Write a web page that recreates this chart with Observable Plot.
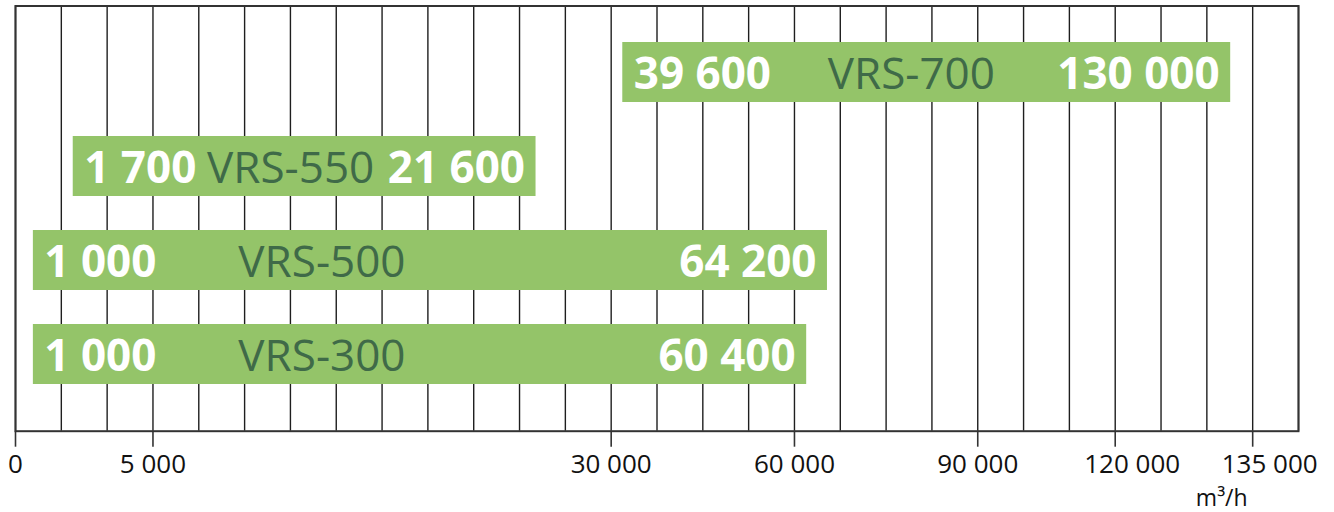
<!DOCTYPE html>
<html>
<head>
<meta charset="utf-8">
<script src="https://cdn.jsdelivr.net/npm/d3@7"></script>
<script src="https://cdn.jsdelivr.net/npm/@observablehq/plot@0.6"></script>
<style>
  html, body { margin: 0; padding: 0; background: #fff; }
</style>
</head>
<body>
<div id="chart"></div>
<script>
// ---- data ----
const models = ["VRS-700", "VRS-550", "VRS-500", "VRS-300"];
const minLabel = ["39 600", "1 700", "1 000", "1 000"];
const maxLabel = ["130 000", "21 600", "64 200", "60 400"];
// bar extents as read against the drawn axis (m³/h)
const barFrom = [31900, 2100, 650, 650];
const barTo = [132600, 25900, 65400, 62000];
// axis ticks
const tickValues = [0, 5000, 30000, 60000, 90000, 120000, 135000];
const tickLabels = ["0", "5 000", "30 000", "60 000", "90 000", "120 000", "135 000"];
// grid step on which each tick sits (the axis is drawn with equal grid cells)
const tickSteps = [0, 3, 13, 17, 21, 24, 27];
const gridCells = 28;
const unitLabel = "m³/h";

// value -> grid step (piecewise linear, as the axis is drawn)
const toGrid = d3.scaleLinear().domain(tickValues).range(tickSteps).clamp(false);

const rows = models.map((m, i) => ({
  model: m,
  lo: minLabel[i],
  hi: maxLabel[i],
  from: toGrid(barFrom[i]),
  to: toGrid(barTo[i])
}));
const wide = rows.filter(d => d.to - d.from > 12);
const narrow = rows.filter(d => d.to - d.from <= 12);
const ticks = tickSteps.map((s, i) => ({ step: s, label: tickLabels[i] }));
const ticksLeft = ticks.filter(d => d.step < 24);
const ticksRight = ticks.filter(d => d.step >= 24);

const green = "#94c469";
const nameColor = "#3f6a48";
const big = 44;

const chart = Plot.plot({
  width: 1334,
  height: 512,
  marginLeft: 15,
  marginRight: 36,
  marginTop: 5.5,
  marginBottom: 81.3,
  x: { domain: [0, gridCells], axis: null },
  y: { domain: models, axis: null, paddingInner: 0.36, paddingOuter: 0, insetTop: 35.5, insetBottom: 45.8 },
  style: { fontFamily: "'Open Sans', sans-serif", background: "#fff", color: "#111" },
  marks: [
    Plot.ruleX(d3.range(gridCells + 1), { stroke: "#1e1e1e", strokeWidth: 1.4 }),
    Plot.frame({ stroke: "#333", strokeWidth: 2 }),
    Plot.axisX(tickSteps, {
      tickSize: 16, tickFormat: () => "", stroke: "#333", strokeWidth: 1.6
    }),
    Plot.text(ticksLeft, {
      x: "step", text: "label", frameAnchor: "bottom", lineAnchor: "top",
      dy: 23, fontSize: 26, fill: "#111"
    }),
    Plot.text(ticksRight, {
      x: "step", text: "label", frameAnchor: "bottom", lineAnchor: "top",
      dy: 23, dx: 17, fontSize: 26, fill: "#111"
    }),
    Plot.text([unitLabel], {
      x: tickSteps[tickSteps.length - 1], frameAnchor: "bottom", textAnchor: "end",
      lineAnchor: "top", dx: -5, dy: 58, fontSize: 23, fill: "#111"
    }),
    Plot.barX(rows, { x1: "from", x2: "to", y: "model", fill: green }),
    Plot.text(rows, {
      x: "from", y: "model", text: "lo", textAnchor: "start", dx: 11, dy: 2,
      fill: "#fff", fontWeight: "bold", fontSize: big
    }),
    Plot.text(rows, {
      x: "to", y: "model", text: "hi", textAnchor: "end", dx: -11, dy: 2,
      fill: "#fff", fontWeight: "bold", fontSize: big
    }),
    Plot.text(wide, {
      x: "from", y: "model", text: "model", textAnchor: "start", dx: 205, dy: 2,
      fill: nameColor, fontSize: big
    }),
    Plot.text(narrow, {
      x: d => (d.from + d.to) / 2, y: "model", text: "model", textAnchor: "middle", dx: -14, dy: 2,
      fill: nameColor, fontSize: big
    })
  ]
});
document.getElementById("chart").appendChild(chart);
</script>
</body>
</html>
